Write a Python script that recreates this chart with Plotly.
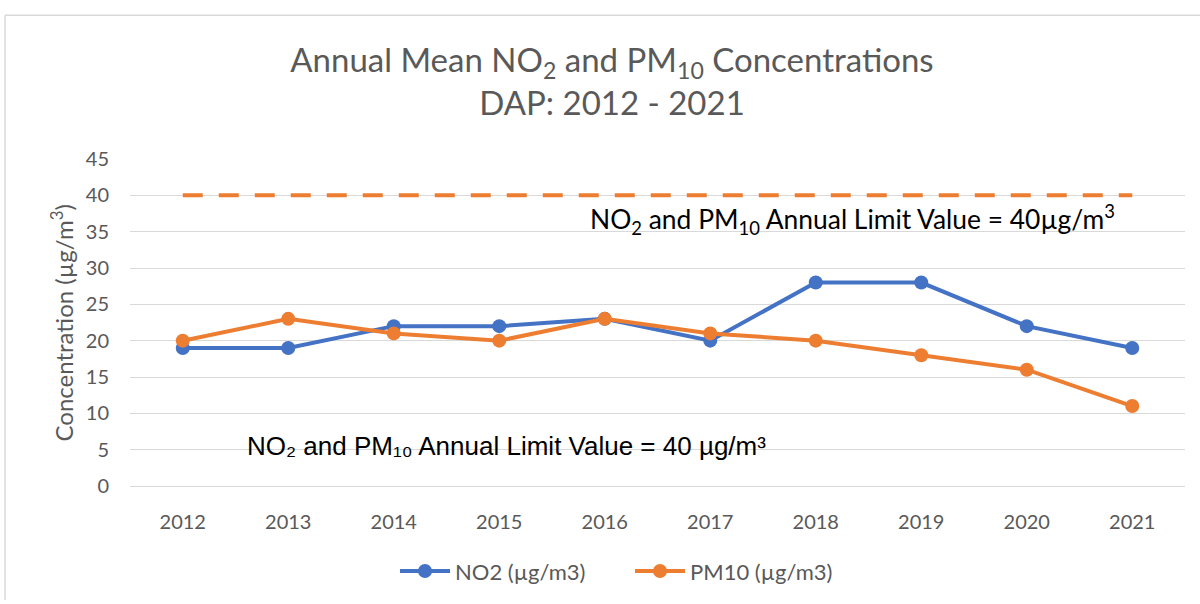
import plotly.graph_objects as go

years = ["2012", "2013", "2014", "2015", "2016", "2017", "2018", "2019", "2020", "2021"]
no2 = [19, 19, 22, 22, 23, 20, 28, 28, 22, 19]
pm10 = [20, 23, 21, 20, 23, 21, 20, 18, 16, 11]
limit = [40, 40, 40, 40, 40, 40, 40, 40, 40, 40]

BLUE = "#4472C4"
ORANGE = "#ED7D31"
GRAY = "#595959"
GRID = "#D9D9D9"
FONT = "Lato"

L, R, T, B = 130, 15, 159, 115
W, H = 1200, 604
pw, ph = W - L - R, H - T - B

def px(x):
    return (x - L) / pw

def py(y):
    return (H - B - y) / ph

fig = go.Figure()
fig.add_trace(go.Scatter(x=years, y=limit, mode="lines", showlegend=False,
                         line=dict(color=ORANGE, width=4, dash="20px,16px"),
                         hoverinfo="skip"))
fig.add_trace(go.Scatter(x=years, y=no2, mode="lines+markers", name="NO2 (µg/m3)",
                         line=dict(color=BLUE, width=4),
                         marker=dict(color=BLUE, size=14)))
fig.add_trace(go.Scatter(x=years, y=pm10, mode="lines+markers", name="PM10 (µg/m3)",
                         line=dict(color=ORANGE, width=4),
                         marker=dict(color=ORANGE, size=14)))

fig.update_layout(
    width=W, height=H,
    margin=dict(l=L, r=R, t=T, b=B),
    paper_bgcolor="white", plot_bgcolor="white",
    font=dict(family=FONT, color=GRAY, size=20),
    title=dict(text="Annual Mean NO<sub>2</sub> and PM<sub>10</sub> Concentrations<br>DAP: 2012 - 2021",
               x=612 / W, xanchor="center", y=1 - 72 / H, yanchor="middle",
               font=dict(family=FONT, size=33, color=GRAY)),
    xaxis=dict(type="category", range=[-0.5, 9.5], showgrid=False, zeroline=False,
               showline=True, linecolor=GRID, linewidth=1, ticks="",
               ticklabelstandoff=18, tickfont=dict(size=20, color=GRAY)),
    yaxis=dict(range=[0, 45], dtick=5, showgrid=True, gridcolor=GRID, gridwidth=1,
               zeroline=False, showline=False, ticks="", ticklabelstandoff=20,
               tickfont=dict(size=20, color=GRAY)),
    legend=dict(orientation="h", x=px(630), xanchor="center", y=py(575), yanchor="middle",
                font=dict(size=22, color=GRAY), itemwidth=50, entrywidth=170),
    showlegend=True,
)

fig.add_annotation(text="Concentration (µg/m<sup>3</sup>)", xref="paper", yref="paper",
                   x=px(62), y=py(325), textangle=-90, showarrow=False,
                   xanchor="center", yanchor="middle",
                   font=dict(family=FONT, size=24, color=GRAY))
fig.add_annotation(text="NO<sub>2</sub> and PM<sub>10</sub> Annual Limit Value = 40µg/m<sup>3</sup>",
                   xref="paper", yref="paper", x=px(588), y=py(220), xanchor="left",
                   yanchor="middle", showarrow=False,
                   font=dict(family=FONT, size=26.4, color="black"))
fig.add_annotation(text="NO₂ and PM₁₀ Annual Limit Value = 40 µg/m³",
                   xref="paper", yref="paper", x=px(245), y=py(449), xanchor="left",
                   yanchor="middle", showarrow=False,
                   font=dict(family="Liberation Sans", size=26, color="black"))

# chart-area border (top and left edges visible)
fig.add_shape(type="line", xref="paper", yref="paper", x0=px(5), x1=px(1200),
              y0=py(14), y1=py(14), line=dict(color=GRID, width=1.5))
fig.add_shape(type="line", xref="paper", yref="paper", x0=px(5), x1=px(5),
              y0=py(14), y1=py(604), line=dict(color=GRID, width=1.5))

fig.write_html("out.html", config={"displayModeBar": False},
               post_script="document.body.style.margin='0';document.body.style.padding='0';")
